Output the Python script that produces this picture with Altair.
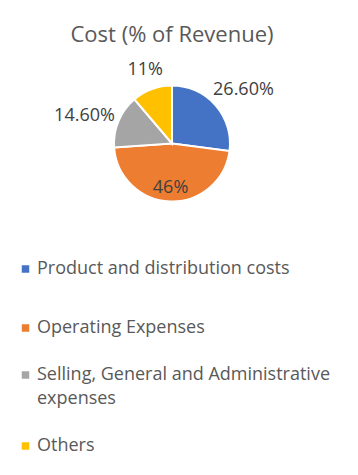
import altair as alt
import pandas as pd

categories = [
    "Product and distribution costs",
    "Operating Expenses",
    "Selling, General and Administrative expenses",
    "Others",
]
values = [26.6, 46, 14.6, 11]
labels = ["26.60%", "46%", "14.60%", "11%"]
legend_text = [
    "Product and distribution costs",
    "Operating Expenses",
    "Selling, General and Administrative\nexpenses",
    "Others",
]
colors = ["#4472C4", "#ED7D31", "#A5A5A5", "#FFC000"]

df = pd.DataFrame({
    "category": categories,
    "value": values,
    "label": labels,
    "legend": legend_text,
    "order": list(range(len(categories))),
})

FONT = "Open Sans"
color = alt.Color("category:N", scale=alt.Scale(domain=categories, range=colors), legend=None)
theta_scale = alt.Scale(domain=[0, 1])

base = alt.Chart(df).transform_joinaggregate(
    total="sum(value)"
).transform_window(
    cum="sum(value)", sort=[alt.SortField("order")], frame=[None, 0]
).transform_calculate(
    f0="(datum.cum - datum.value) / datum.total",
    f1="datum.cum / datum.total",
    fm="(datum.cum - datum.value / 2) / datum.total",
)

arcs = base.mark_arc(outerRadius=58, stroke="white", strokeWidth=2).encode(
    theta=alt.Theta("f0:Q", scale=theta_scale),
    theta2="f1:Q",
    color=color,
)


def label_layer(cats, radius, baseline):
    return base.transform_filter(
        alt.FieldOneOfPredicate(field="category", oneOf=cats)
    ).mark_text(
        radius=radius, baseline=baseline, align="center",
        fontSize=18, font=FONT, color="#404040",
    ).encode(
        theta=alt.Theta("fm:Q", scale=theta_scale),
        text="label:N",
    )


lab_top = label_layer([categories[0], categories[2]], 95, "top")
lab_mid = label_layer([categories[3]], 78, "middle")
lab_in = label_layer([categories[1]], 45, "middle")

pie = alt.layer(arcs, lab_top, lab_mid, lab_in).properties(
    width=328,
    height=187,
    title=alt.TitleParams(
        "Cost (% of Revenue)", fontSize=22, font=FONT, color="#595959",
        fontWeight="normal", anchor="middle", offset=3,
    ),
)

yenc = alt.Y(
    "category:N", axis=None,
    scale=alt.Scale(type="point", padding=0, domain=categories),
)
leg_base = alt.Chart(df).encode(y=yenc)

single = [categories[0], categories[1], categories[3]]
multi = [categories[2]]

sq1 = leg_base.transform_filter(
    alt.FieldOneOfPredicate(field="category", oneOf=single)
).mark_square(size=56, opacity=1).encode(x=alt.value(17.5), color=color)
sq2 = leg_base.transform_filter(
    alt.FieldOneOfPredicate(field="category", oneOf=multi)
).mark_square(size=56, opacity=1, yOffset=-12).encode(x=alt.value(17.5), color=color)

txt_style = dict(
    align="left", baseline="middle", fontSize=18, lineHeight=24,
    lineBreak="\n", font=FONT, color="#595959",
)
txt1 = leg_base.transform_filter(
    alt.FieldOneOfPredicate(field="category", oneOf=single)
).mark_text(**txt_style).encode(x=alt.value(29), text="legend:N")
txt2 = leg_base.transform_filter(
    alt.FieldOneOfPredicate(field="category", oneOf=multi)
).mark_text(dy=-12, **txt_style).encode(x=alt.value(29), text="legend:N")

legend = alt.layer(sq1, sq2, txt1, txt2).properties(width=328, height=177)

chart = alt.vconcat(pie, legend, spacing=23).properties(
    padding={"top": 16, "left": 0, "right": 0, "bottom": 0}
).configure_view(stroke=None)

chart.save("out.html", embed_options={"renderer": "svg", "actions": False})
